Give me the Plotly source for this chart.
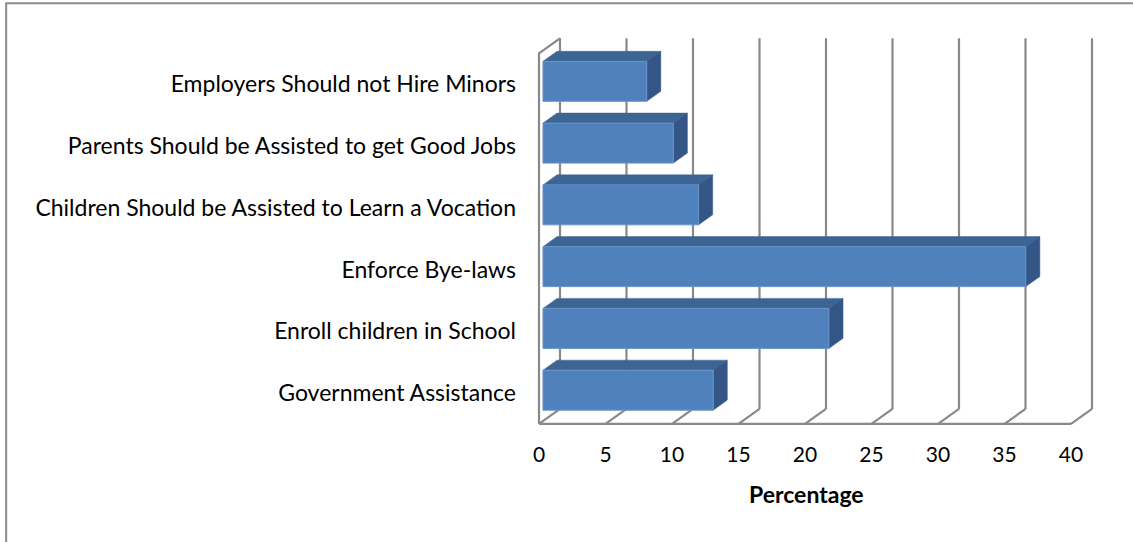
import plotly.graph_objects as go

# ---- data ----
categories = [
    "Government Assistance",
    "Enroll children in School",
    "Enforce Bye-laws",
    "Children Should be Assisted to Learn a Vocation",
    "Parents Should be Assisted to get Good Jobs",
    "Employers Should not Hire Minors",
]
values = [12.8, 21.5, 36.3, 11.7, 9.8, 7.8]
x_ticks = [0, 5, 10, 15, 20, 25, 30, 35, 40]
x_title = "Percentage"

# ---- 3D (oblique) look parameters ----
DX = 1.579      # depth offset in x units
DY = 0.2427     # depth offset in y units
F0, F1 = 0.19, 0.86   # bar front / back depth fractions
H = 0.647       # bar thickness (category units)
XMAX = x_ticks[-1]
N = len(categories)

GRID = "#898989"
FRONT = "#4F81BD"
TOP = "#3D6594"
SIDE = "#335687"
FONT = "Lato"

fig = go.Figure()

# gridlines: back wall verticals, floor diagonals, floor front line, left wall
gx, gy = [], []
for t in x_ticks:
    gx += [t + DX, t + DX, None]
    gy += [-0.5 + DY, N - 0.5 + DY, None]
    gx += [t, t + DX, None]
    gy += [-0.5, -0.5 + DY, None]
gx += [0, XMAX, None]
gy += [-0.5, -0.5, None]
gx += [0, 0, DX, None]
gy += [-0.5, N - 0.5, N - 0.5 + DY, None]
fig.add_trace(go.Scatter(x=gx, y=gy, mode="lines",
                         line=dict(color=GRID, width=2.2),
                         hoverinfo="skip", showlegend=False))

dd = F1 - F0
fx, fy, tx, ty, sx, sy = [], [], [], [], [], []
for i, v in enumerate(values):
    x0 = F0 * DX
    x1 = v + F0 * DX
    yb = i - H / 2 + F0 * DY
    yt = i + H / 2 + F0 * DY
    fx += [x0, x1, x1, x0, x0, None]
    fy += [yb, yb, yt, yt, yb, None]
    tx += [x0, x1, x1 + dd * DX, x0 + dd * DX, x0, None]
    ty += [yt, yt, yt + dd * DY, yt + dd * DY, yt, None]
    sx += [x1, x1 + dd * DX, x1 + dd * DX, x1, x1, None]
    sy += [yb, yb + dd * DY, yt + dd * DY, yt, yb, None]

fig.add_trace(go.Scatter(x=tx, y=ty, mode="lines", fill="toself",
                         fillcolor=TOP, line=dict(color=TOP, width=0.5),
                         hoverinfo="skip", showlegend=False))
fig.add_trace(go.Scatter(x=sx, y=sy, mode="lines", fill="toself",
                         fillcolor=SIDE, line=dict(color=SIDE, width=0.5),
                         hoverinfo="skip", showlegend=False))
fig.add_trace(go.Scatter(x=fx, y=fy, mode="lines", fill="toself",
                         fillcolor=FRONT, line=dict(color="#6A93C8", width=1),
                         hoverinfo="skip", showlegend=False))

fig.update_layout(
    width=1133, height=542,
    margin=dict(l=535, r=33, t=36, b=115),
    paper_bgcolor="white", plot_bgcolor="white",
    font=dict(family=FONT, size=21, color="black"),
    showlegend=False,
    xaxis=dict(range=[-0.3, 42.18], tickvals=x_ticks,
               ticktext=[str(t) for t in x_ticks],
               tickfont=dict(size=21),
               showgrid=False, zeroline=False, showline=False,
               ticks="", ticklabelstandoff=13, fixedrange=True),
    yaxis=dict(range=[-0.55, 5.78], tickvals=list(range(N)),
               ticktext=categories, tickfont=dict(size=23),
               showgrid=False, zeroline=False,
               showline=False, ticks="", ticklabelstandoff=18,
               fixedrange=True),
    annotations=[dict(text="<b>" + x_title + "</b>", x=20.15, xref="x",
                      y=-0.213, yref="paper", showarrow=False,
                      font=dict(family=FONT, size=23, color="black"))],
    shapes=[dict(type="rect", xref="paper", yref="paper",
                 x0=-0.936, x1=1.1, y0=-0.35, y1=1.084,
                 line=dict(color="#8C8C8C", width=2), layer="below")],
)

fig.write_html("out.html",
               config={"displayModeBar": False},
               post_script="document.body.style.margin='0px';")
